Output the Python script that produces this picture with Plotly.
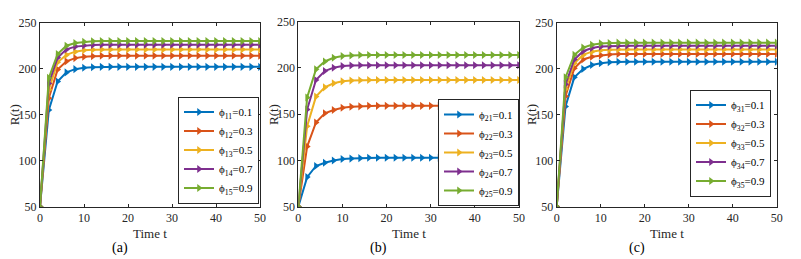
import plotly.graph_objects as go

# The page body adds an 8px margin; work in reference pixels and shift.
OX, OY = 8, 8
W, H = 801 - OX, 259 - OY

t = [0, 2, 4, 6, 8, 10, 12, 14, 16, 18, 20, 22, 24, 26, 28, 30, 32, 34, 36, 38, 40, 42, 44, 46, 48, 50]

# Panel (a)
a_labels = ["ϕ<sub>11</sub>=0.1", "ϕ<sub>12</sub>=0.3", "ϕ<sub>13</sub>=0.5", "ϕ<sub>14</sub>=0.7", "ϕ<sub>15</sub>=0.9"]
a1 = [50, 155, 186, 196, 199.5, 201, 201.6, 202, 202, 202, 202, 202, 202, 202, 202, 202, 202, 202, 202, 202, 202, 202, 202, 202, 202, 202]
a2 = [50, 168, 199, 208, 211.5, 213, 213.6, 214, 214, 214, 214, 214, 214, 214, 214, 214, 214, 214, 214, 214, 214, 214, 214, 214, 214, 214]
a3 = [50, 177, 207, 215, 218.5, 220, 220.6, 221, 221, 221, 221, 221, 221, 221, 221, 221, 221, 221, 221, 221, 221, 221, 221, 221, 221, 221]
a4 = [50, 184, 212, 221, 224, 225.3, 225.8, 226, 226, 226, 226, 226, 226, 226, 226, 226, 226, 226, 226, 226, 226, 226, 226, 226, 226, 226]
a5 = [50, 190, 216, 225, 228, 229.3, 229.8, 230, 230, 230, 230, 230, 230, 230, 230, 230, 230, 230, 230, 230, 230, 230, 230, 230, 230, 230]

# Panel (b)
b_labels = ["ϕ<sub>21</sub>=0.1", "ϕ<sub>22</sub>=0.3", "ϕ<sub>23</sub>=0.5", "ϕ<sub>24</sub>=0.7", "ϕ<sub>25</sub>=0.9"]
b1 = [50, 82, 94, 97.5, 100, 101.5, 102, 102.5, 103, 103, 103, 103, 103, 103, 103, 103, 103, 103, 103, 103, 103, 103, 103, 103, 103, 103]
b2 = [50, 115, 141, 151, 154.5, 157, 158, 158.5, 159, 159, 159, 159, 159, 159, 159, 159, 159, 159, 159, 159, 159, 159, 159, 159, 159, 159]
b3 = [50, 137, 169, 179, 183.4, 185.5, 186.3, 186.7, 187, 187, 187, 187, 187, 187, 187, 187, 187, 187, 187, 187, 187, 187, 187, 187, 187, 187]
b4 = [50, 155, 187, 196.7, 200.3, 202, 202.6, 203, 203, 203, 203, 203, 203, 203, 203, 203, 203, 203, 203, 203, 203, 203, 203, 203, 203, 203]
b5 = [50, 168, 198.5, 207, 211, 212.8, 213.5, 214, 214, 214, 214, 214, 214, 214, 214, 214, 214, 214, 214, 214, 214, 214, 214, 214, 214, 214]

# Panel (c)
c_labels = ["ϕ<sub>31</sub>=0.1", "ϕ<sub>32</sub>=0.3", "ϕ<sub>33</sub>=0.5", "ϕ<sub>34</sub>=0.7", "ϕ<sub>35</sub>=0.9"]
c1 = [50, 159, 190.6, 199.7, 204, 206, 207, 207.5, 207.5, 207.5, 207.5, 207.5, 207.5, 207.5, 207.5, 207.5, 207.5, 207.5, 207.5, 207.5, 207.5, 207.5, 207.5, 207.5, 207.5, 207.5]
c2 = [50, 170, 200.4, 210, 213, 214.5, 215.5, 216, 216, 216, 216, 216, 216, 216, 216, 216, 216, 216, 216, 216, 216, 216, 216, 216, 216, 216]
c3 = [50, 178, 206, 215, 218.5, 220, 220.6, 221, 221, 221, 221, 221, 221, 221, 221, 221, 221, 221, 221, 221, 221, 221, 221, 221, 221, 221]
c4 = [50, 183, 210, 219, 222.5, 224, 224.5, 225, 225, 225, 225, 225, 225, 225, 225, 225, 225, 225, 225, 225, 225, 225, 225, 225, 225, 225]
c5 = [50, 190.6, 215, 223, 226, 227.5, 228, 228.3, 228.3, 228.3, 228.3, 228.3, 228.3, 228.3, 228.3, 228.3, 228.3, 228.3, 228.3, 228.3, 228.3, 228.3, 228.3, 228.3, 228.3, 228.3]

y_ticks = [50, 100, 150, 200, 250]
x_ticks = [0, 10, 20, 30, 40, 50]
panel_labels = ["(a)", "(b)", "(c)"]

colors = ["#0072BD", "#D95319", "#EDB120", "#7E2F8E", "#77AC30"]
FONT = "Liberation Serif"

panels = [
    (a_labels, [a1, a2, a3, a4, a5]),
    (b_labels, [b1, b2, b3, b4, b5]),
    (c_labels, [c1, c2, c3, c4, c5]),
]

def px(x):
    return (x - OX) / W

def py(y):
    return 1 - (y - OY) / H

# pixel geometry of plot areas in reference pixels: (x0, x1, ytop, ybot)
geo = [(40, 260, 22.7, 206.7), (298.3, 519, 21.7, 206.7), (556.7, 776.7, 22.7, 206.7)]
# legend boxes: (right x, anchor y, anchor)
leg = [(259, 150, "middle"), (519, 206, "bottom"), (771, 143, "middle")]

fig = go.Figure()
layout = dict(
    template="none",
    width=W, height=H, margin=dict(l=0, r=0, t=0, b=0, pad=0, autoexpand=False),
    paper_bgcolor="white", plot_bgcolor="white",
    font=dict(family=FONT, size=12, color="#262626"),
    annotations=[],
)

for i, (labels, series) in enumerate(panels):
    k = "" if i == 0 else str(i + 1)
    lg = "legend" if i == 0 else "legend" + str(i + 1)
    for j, (lab, ys) in enumerate(zip(labels, series)):
        fig.add_trace(go.Scatter(
            x=t, y=ys, name=lab, mode="lines+markers",
            line=dict(color=colors[j], width=2),
            marker=dict(symbol="triangle-right", size=7, color=colors[j]),
            xaxis="x" + k, yaxis="y" + k, legend=lg,
        ))
    x0, x1, yt, yb = geo[i]
    layout["xaxis" + k] = dict(
        domain=[px(x0), px(x1)], anchor="y" + k, range=[0, 50], automargin=False,
        tickvals=x_ticks, ticks="inside", ticklen=3, showline=True, mirror="ticks",
        linecolor="#262626", linewidth=1, tickcolor="#262626", showgrid=False, zeroline=False,
        tickfont=dict(family=FONT, size=12, color="#262626"),
    )
    layout["yaxis" + k] = dict(
        domain=[py(yb), py(yt)], anchor="x" + k, range=[50, 250], automargin=False,
        tickvals=y_ticks, ticks="inside", ticklen=3, showline=True, mirror="ticks",
        linecolor="#262626", linewidth=1, tickcolor="#262626", showgrid=False, zeroline=False,
        tickfont=dict(family=FONT, size=12, color="#262626"),
    )
    lx, ly, lanc = leg[i]
    layout[lg] = dict(
        x=px(lx), y=py(ly), xanchor="right", yanchor=lanc,
        xref="paper", yref="paper",
        bgcolor="white", bordercolor="#262626", borderwidth=1,
        font=dict(family=FONT, size=11, color="black"),
        itemwidth=30, tracegroupgap=0,
    )
    cx = (x0 + x1) / 2
    layout["annotations"].append(dict(
        text="Time t", x=px(cx), y=py(233), xref="paper", yref="paper",
        showarrow=False, xanchor="center", yanchor="middle",
        font=dict(family=FONT, size=13, color="#262626")))
    layout["annotations"].append(dict(
        text=panel_labels[i], x=px(cx - 30), y=py(248), xref="paper", yref="paper",
        showarrow=False, xanchor="center", yanchor="middle",
        font=dict(family=FONT, size=14, color="black")))
    layout["annotations"].append(dict(
        text="R(t)", x=px(x0 - 25.5), y=py((yt + yb) / 2), xref="paper", yref="paper",
        showarrow=False, xanchor="center", yanchor="middle", textangle=-90,
        font=dict(family=FONT, size=13, color="#262626")))

fig.update_layout(**layout)
fig.write_html("out.html")
